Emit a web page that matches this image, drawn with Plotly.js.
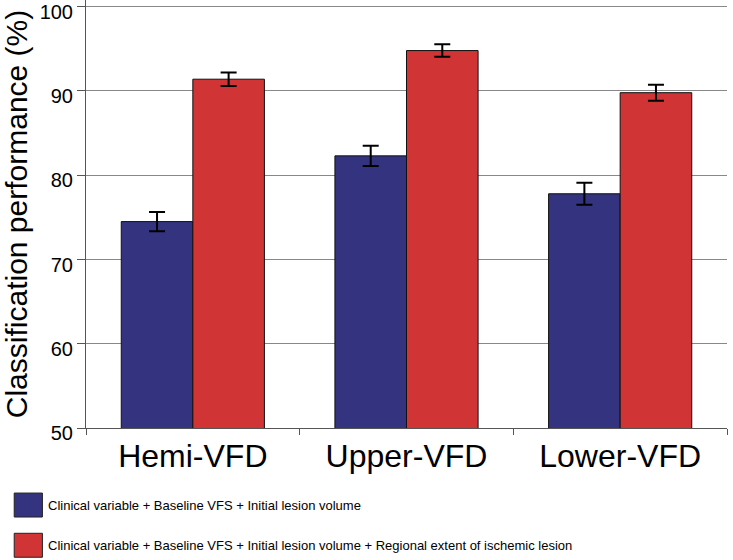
<!DOCTYPE html>
<html>
<head>
<meta charset="utf-8">
<script src="https://cdn.plot.ly/plotly-3.0.1.min.js"></script>
<style>
  html, body { margin: 0; padding: 0; background: #fff; }
  #chart { width: 733px; height: 560px; }
</style>
</head>
<body>
<div id="chart"></div>
<script>
// categories and series
const categories = ['Hemi-VFD', 'Upper-VFD', 'Lower-VFD'];

const baseName = 'Clinical variable + Baseline VFS + Initial lesion volume';
const baseValues = [74.5, 82.3, 77.8];
const baseErrors = [1.15, 1.2, 1.3];

const regionalName = 'Clinical variable + Baseline VFS + Initial lesion volume + Regional extent of ischemic lesion';
const regionalValues = [91.4, 94.8, 89.8];
const regionalErrors = [0.8, 0.75, 0.95];

const yTicks = [50, 60, 70, 80, 90, 100];

const blue = '#333380';
const red = '#d03434';
const fontFamily = 'Liberation Sans, Arial, sans-serif';

function barTrace(name, values, errors, color) {
  return {
    type: 'bar',
    name: name,
    x: categories,
    y: values,
    marker: { color: color, line: { color: '#111', width: 1 } },
    error_y: { type: 'data', array: errors, visible: true, color: '#000', thickness: 2, width: 8 }
  };
}

const traces = [
  barTrace(baseName, baseValues, baseErrors, blue),
  barTrace(regionalName, regionalValues, regionalErrors, red)
];

// legend drawn by hand below the plot so the swatches can be large
const legendEntries = [
  { name: baseName, color: blue },
  { name: regionalName, color: red }
];
const shapes = [];
const annotations = [];
legendEntries.forEach((e, i) => {
  const top = -0.152 - i * 0.094;   // paper units below plot
  shapes.push({
    type: 'rect', xref: 'paper', yref: 'paper',
    x0: -0.112, x1: -0.068, y0: top, y1: top - 0.056,
    fillcolor: e.color, line: { color: '#222', width: 1 }
  });
  annotations.push({
    xref: 'paper', yref: 'paper',
    x: -0.062, y: top - 0.028,
    xanchor: 'left', yanchor: 'middle',
    text: e.name, showarrow: false,
    font: { family: fontFamily, size: 13, color: '#000' }
  });
});

const layout = {
  width: 733,
  height: 560,
  margin: { l: 86, r: 6, t: 0, b: 132 },
  paper_bgcolor: '#fff',
  plot_bgcolor: '#fff',
  font: { family: fontFamily, color: '#000' },
  barmode: 'group',
  bargap: 0.33,
  bargroupgap: 0,
  showlegend: false,
  shapes: shapes,
  annotations: annotations,
  xaxis: {
    tickfont: { size: 32 },
    ticks: 'outside',
    tickson: 'boundaries',
    ticklen: 6,
    tickcolor: '#555',
    showline: true,
    linecolor: '#555',
    linewidth: 1,
    showgrid: false
  },
  yaxis: {
    range: [50, 100.8],
    tickvals: yTicks,
    ticks: 'outside',
    ticklen: 8,
    tickcolor: '#555',
    tickfont: { size: 20 },
    ticklabelshift: 5,
    ticklabeloverflow: 'allow',
    showline: true,
    linecolor: '#555',
    linewidth: 1,
    gridcolor: '#888',
    gridwidth: 1,
    zeroline: false,
    automargin: false,
    title: { text: 'Classification performance (%)', font: { size: 30 }, standoff: 12 }
  }
};

Plotly.newPlot('chart', traces, layout, { displayModeBar: false, staticPlot: true });
</script>
</body>
</html>
